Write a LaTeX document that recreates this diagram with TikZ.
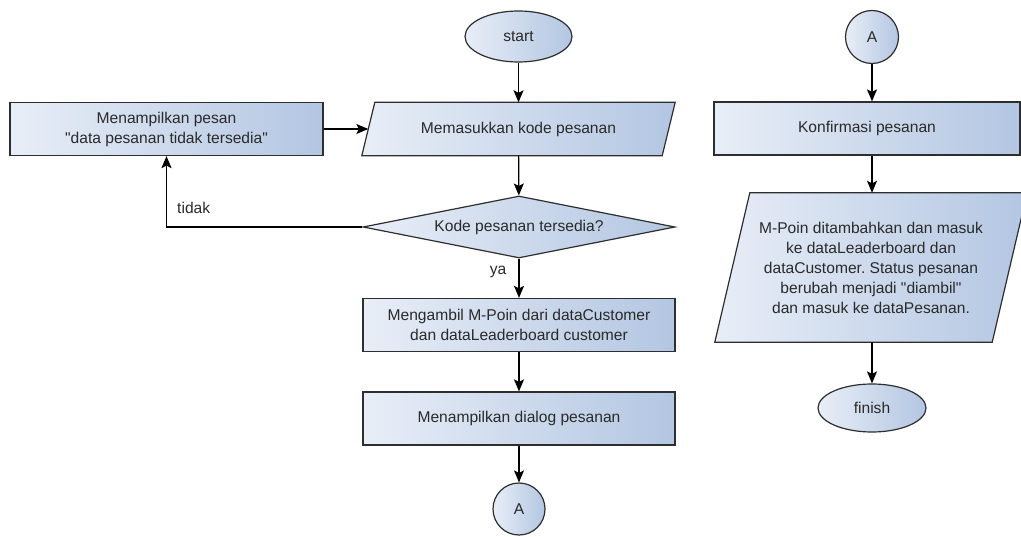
\documentclass[tikz,border=0pt]{standalone}
\usepackage{fontspec}
\setmainfont{Liberation Sans}
\frenchspacing
\usetikzlibrary{shapes.geometric,arrows.meta,backgrounds,calc}
\definecolor{boxL}{HTML}{E8EEF7}
\definecolor{boxR}{HTML}{B3C6E2}
\definecolor{edge}{HTML}{2E2E2E}
\definecolor{txt}{HTML}{2A2A2A}
\newcommand{\dq}{\textquotedbl}
\tikzset{
  x=1pt, y=-1pt,
  txtfont/.style={font=\fontsize{15.6}{20}\selectfont},
  base/.style={draw=edge, line width=1.2pt, left color=boxL, right color=boxR,
    text=txt, txtfont, align=center, inner sep=0pt},
  procbox/.style={base, rectangle, minimum width=#1, minimum height=53},
  procbox/.default=312,
  iobox/.style={rectangle, text=txt, txtfont, align=center, inner sep=0pt,
    minimum width=#1},
  iofill/.style={draw=edge, line width=1.2pt, left color=boxL, right color=boxR},
  term/.style={base, ellipse, minimum width=107, minimum height=51},
  conn/.style={base, circle, minimum size=53},
  decision/.style={base, diamond, aspect=5, minimum width=312, minimum height=62},
  arr/.style={draw=black, line width=1.2pt,
    -{Stealth[length=12pt, width=10pt, inset=2.5pt]}},
  lbl/.style={text=txt, txtfont, inner sep=0pt}
}
\begin{document}
\begin{tikzpicture}
\clip (0,0) rectangle (1021,537);

% left column
\node[term] (start) at (518.5,36.5) {start};
\node[iobox=300, minimum height=53] (inp) at (518.5,129) {Memasukkan kode pesanan};
\node[procbox=313] (msg) at (166.5,129) {Menampilkan pesan\\\dq data pesanan tidak tersedia\dq};
\node[decision] (dec) at (519,227) {Kode pesanan tersedia?};
\node[procbox] (poin) at (519,325) {Mengambil M-Poin dari dataCustomer\\dan dataLeaderboard customer};
\node[procbox] (dlg) at (519,418.5) {Menampilkan dialog pesanan};
\node[conn, minimum size=52] (aout) at (519,509) {A};

% right column
\node[conn] (ain) at (872,37) {A};
\node[procbox=306] (konf) at (867,128.5) {Konfirmasi pesanan};
\node[iobox=277, minimum height=149] (upd) at (871,267.5)
  {M-Poin ditambahkan dan masuk\\ke dataLeaderboard dan\\dataCustomer. Status pesanan\\berubah menjadi \dq diambil\dq\\dan masuk ke dataPesanan.};
\node[term, minimum width=108, minimum height=48] (fin) at (872,408) {finish};

% slanted input/output shapes behind their text
\begin{pgfonlayer}{background}
  \fill[white] (0,0) rectangle (1021,537);
  \path[iofill] ($(inp.north west)+(6.5,0)$) -- ($(inp.north east)+(6.5,0)$)
    -- ($(inp.south east)+(-6.5,0)$) -- ($(inp.south west)+(-6.5,0)$) -- cycle;
  \path[iofill] ($(upd.north west)+(17.5,0)$) -- ($(upd.north east)+(17.5,0)$)
    -- ($(upd.south east)+(-17.5,0)$) -- ($(upd.south west)+(-17.5,0)$) -- cycle;
\end{pgfonlayer}

% connectors
\draw[arr] (start) -- (inp);
\draw[arr] (msg.east) -- (inp.west);
\draw[arr] (inp) -- (dec);
\draw[arr] (dec.west) -| (msg.south);
\node[lbl, anchor=west] (tidak) at (177,208) {tidak};
\draw[arr] (dec) -- (poin);
\node[lbl] (ya) at (498,272) {ya};
\draw[arr] (poin) -- (dlg);
\draw[arr] (dlg) -- (aout);

\draw[arr] (ain.south) -- (ain.south |- konf.north);
\draw[arr] (ain.south |- konf.south) -- (ain.south |- upd.north);
\draw[arr] (ain.south |- upd.south) -- (fin.north);
\end{tikzpicture}
\end{document}
